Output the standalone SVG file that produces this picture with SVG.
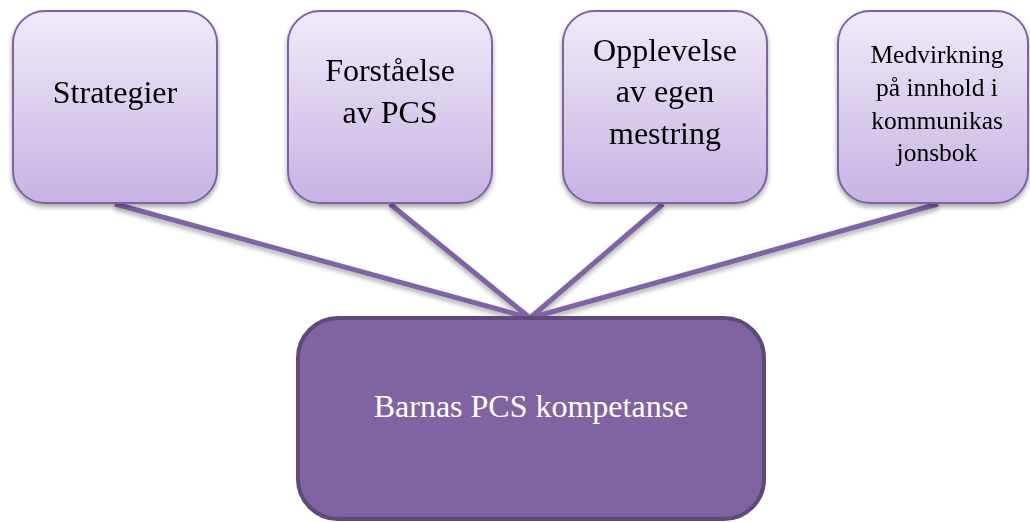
<svg xmlns="http://www.w3.org/2000/svg" width="1030" height="522" viewBox="0 0 1030 522">
<defs>
<linearGradient id="g" x1="0" y1="0" x2="0" y2="1">
<stop offset="0" stop-color="#f0eaf8"/>
<stop offset="1" stop-color="#c6b3e4"/>
</linearGradient>
<filter id="sh" x="-10%" y="-10%" width="120%" height="130%">
<feGaussianBlur in="SourceAlpha" stdDeviation="2.5"/>
<feOffset dx="0" dy="3" result="b"/>
<feComponentTransfer><feFuncA type="linear" slope="0.35"/></feComponentTransfer>
<feMerge><feMergeNode/><feMergeNode in="SourceGraphic"/></feMerge>
</filter>
</defs>
<style>
.top{fill:url(#g);stroke:#8064a2;stroke-width:2}
.t{font-family:"Liberation Serif",serif;font-size:32px;fill:#000;text-anchor:middle}
.s{font-family:"Liberation Serif",serif;font-size:25.5px;fill:#000;text-anchor:middle}
.w{font-family:"Liberation Serif",serif;font-size:32px;fill:#fff;text-anchor:middle}
.c{stroke:#8064a2;stroke-width:5;fill:none;stroke-linecap:butt}
</style>
<g id="connectors" filter="url(#sh)">
<line class="c" x1="115" y1="204" x2="530" y2="318"/>
<line class="c" x1="390" y1="204" x2="530" y2="318"/>
<line class="c" x1="663" y1="204" x2="530" y2="318"/>
<line class="c" x1="938" y1="204" x2="530" y2="318"/>
</g>
<g id="n1" filter="url(#sh)">
<rect class="top" x="13" y="11" width="204" height="192" rx="32"/>
<text class="t" x="115" y="103">Strategier</text>
</g>
<g id="n2" filter="url(#sh)">
<rect class="top" x="288" y="11" width="204" height="192" rx="32"/>
<text class="t" x="390" y="81">Forståelse</text>
<text class="t" x="390" y="123">av PCS</text>
</g>
<g id="n3" filter="url(#sh)">
<rect class="top" x="563" y="11" width="204" height="192" rx="32"/>
<text class="t" x="665" y="61">Opplevelse</text>
<text class="t" x="665" y="102">av egen</text>
<text class="t" x="665" y="144">mestring</text>
</g>
<g id="n4" filter="url(#sh)">
<rect class="top" x="838" y="11" width="190" height="192" rx="32"/>
<text class="s" x="937" y="63">Medvirkning</text>
<text class="s" x="937" y="96">på innhold i</text>
<text class="s" x="937" y="129">kommunikas</text>
<text class="s" x="937" y="161">jonsbok</text>
</g>
<g id="n5">
<rect x="298" y="318" width="466" height="201" rx="40" fill="#8064a2" stroke="#5f497a" stroke-width="4"/>
<text class="w" x="531" y="417">Barnas PCS kompetanse</text>
</g>
</svg>
